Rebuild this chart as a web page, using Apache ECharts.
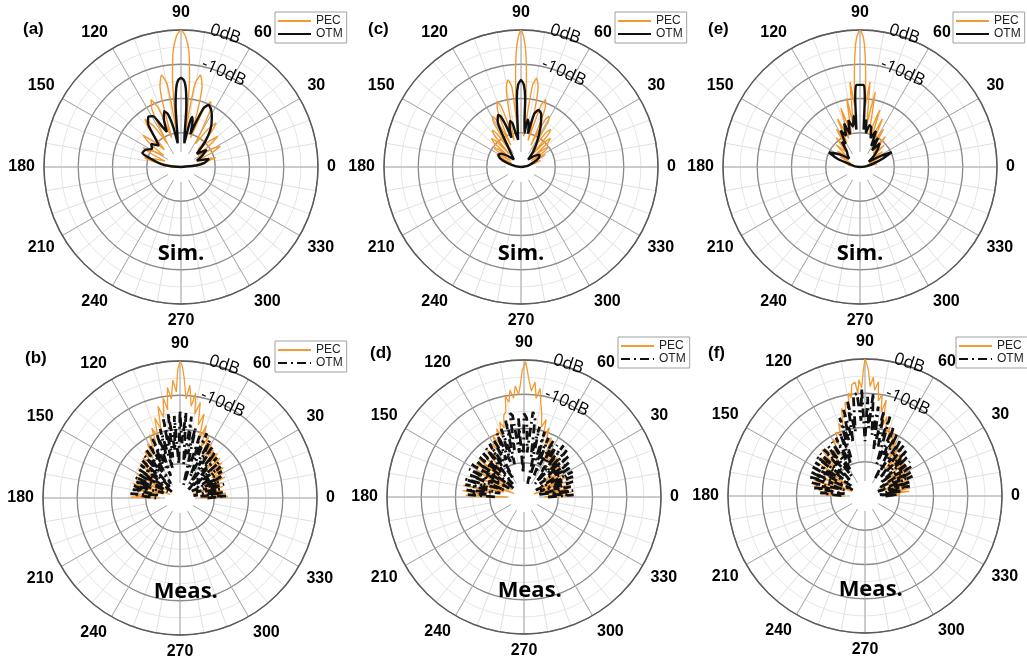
<!DOCTYPE html>
<html>
<head>
<meta charset="utf-8">
<script src="https://cdn.jsdelivr.net/npm/echarts@6/dist/echarts.min.js"></script>
<style>
  html, body { margin: 0; background: #fff; }
  #chart { width: 1027px; height: 668px; }
</style>
</head>
<body>
<div id="chart"></div>
<script>
// pattern values, [angle in degrees, level in dB]
const simA_PEC = [[0,-40],[8,-37],[12,-32.5],[15,-29.5],[18,-32.5],[21,-35],[25,-30],[28,-27],[31,-30],[34,-34],
  [37.5,-29],[40,-26],[42.5,-29],[45.5,-33],[49,-26.5],[51.5,-23.5],[54.5,-26.5],[58,-32],[62.5,-22],[65.5,-19],
  [68.5,-22],[72,-31],[75.5,-15.5],[78,-12.6],[80.5,-15.5],[83,-30],[84.5,-14],[86,-6.5],[88,-1.8],[90,0],
  [92,-1.8],[94,-6.5],[95.5,-14],[97,-30],[99.5,-15.5],[102,-12.6],[104.5,-15.5],[107.5,-31],[111,-21.5],[114,-18.5],
  [117,-21.5],[120,-32],[124,-25.5],[127,-22.5],[130,-25.5],[133.5,-33],[137.5,-28.5],[140,-25.5],[143,-28.5],[146.5,-34],
  [150.5,-30.5],[153,-27.5],[156,-30.5],[159.5,-35],[163,-32],[166,-29],[169,-32],[172,-37],[180,-40]]
const simA_OTM = [[0,-40],[5,-36],[10,-33],[16,-31.5],[22,-35],[28,-33],[34,-31],[40,-34],[46,-30],[52,-26],
  [58,-23],[62.5,-21],[66,-20.2],[69,-21.5],[72,-27],[74,-30],[76,-26],[77.5,-25],[79,-27],[82,-33],
  [83.5,-31],[85,-22],[86.5,-17],[88,-14.7],[90,-14],[92,-14.7],[93.5,-17],[95,-22],[96.5,-31],[98,-33],
  [101,-28],[104,-24],[107,-23],[109.5,-25],[112,-29],[115,-27],[119,-23],[123,-22.5],[127,-24],[131,-28],
  [136,-31],[142,-29],[148,-30],[154,-28.5],[160,-28],[165,-31],[171,-34],[176,-37],[180,-40]]

const simC_PEC = [[0,-40],[13,-38],[16,-35.5],[18,-34],[20,-35.5],[22.5,-37],[25,-33.5],[27,-32],[29,-33.5],[31.5,-36.5],
  [34,-31.5],[36,-30],[38,-31.5],[40,-36],[42,-29.5],[44,-28],[46,-29.5],[48,-35],[50,-27.5],[52,-26],
  [54,-27.5],[56.5,-34],[59,-24.5],[61,-23],[63,-24.5],[65.5,-33],[68,-21],[70,-19],[72,-21],[75,-32],
  [78,-16],[80,-13.7],[82,-16],[85,-31],[85.6,-24],[86.5,-14],[87.6,-6.5],[88.8,-2],[90,0],[91.2,-2],
  [92.4,-6.5],[93.5,-14],[94.4,-24],[95,-31],[96.5,-16.5],[98.5,-14.3],[100.5,-16.5],[104.5,-32],[108,-21.5],[110,-19.6],
  [112,-21.5],[115,-33],[117.5,-24.5],[119.5,-23],[121.5,-24.5],[124,-34],[126,-28],[128,-26.3],[130,-28],[132,-35],
  [134,-29.5],[136,-28],[138,-29.5],[140,-36],[142,-31.5],[144,-30],[146,-31.5],[148.5,-36.5],[151,-33.5],[153,-32],
  [155,-33.5],[157.5,-37],[160,-35.5],[162,-34],[164,-35.5],[167,-38],[180,-40]]
const simC_OTM = [[0,-40],[10,-38],[20,-36],[28,-34],[34,-33.5],[40,-35],[46,-37],[52,-34],[58,-31],[64,-27],
  [69,-23.5],[73,-22.6],[76,-24],[78,-30],[80,-27],[82,-26],[84,-30],[85.5,-27],[86.5,-20],[88,-16],
  [90,-14.6],[92,-16],[93.5,-20],[94.5,-27],[96,-32],[99,-30],[101,-27],[103.5,-26.2],[106,-28],[108,-31],
  [110,-27],[112,-24],[114,-23.4],[117,-25],[121,-31],[126,-35],[134,-37],[140,-35],[146,-33],[152,-32.5],
  [158,-33.5],[164,-36],[172,-38.5],[180,-40]]

const simE_PEC = [[0,-40],[6,-38],[10,-35],[14,-38],[18,-34],[22,-37],[26,-33],[30,-36.5],[34,-32],[38,-35.5],
  [42,-30.5],[46,-34.5],[50,-28.5],[54,-33.5],[58,-27],[61.5,-32],[65,-24.5],[68,-31],[71,-22.4],[74.5,-30],
  [78.5,-17.6],[81,-27],[83.3,-15],[85,-22],[86.5,-13],[87.6,-6],[88.6,-2],[90,0],[91.4,-2],[92.4,-6],
  [93.5,-13],[95,-22],[96.7,-15],[99,-27],[101,-19.5],[104.5,-30],[108,-22],[111.5,-31],[115,-24.5],[118.5,-32],
  [122,-27],[125.5,-33],[129,-29],[133,-34],[137,-30.5],[141,-35],[145,-32],[149,-36],[153,-33.5],[157,-37],
  [161,-35],[166,-38],[172,-36.5],[176,-39],[180,-40]]
const simE_OTM = [[0,-40],[8,-38],[14,-36],[20,-33],[25,-29.8],[28,-33],[32,-37],[38,-35],[44,-33],[50,-31],
  [54,-34],[58,-30],[62,-33],[66,-28.5],[70,-31],[74,-28],[77,-27.5],[80,-30],[82.5,-26],[84.5,-29],
  [85.5,-24],[86,-20],[87.4,-16],[92.6,-16],[94,-20],[94.5,-24],[95.5,-29],[97,-25],[100,-28],[104,-25.9],
  [107,-30],[110,-26.5],[114,-30],[118,-28],[122,-32],[126,-31],[130,-34],[136,-35],[142,-36],[148,-33],
  [155,-30],[160,-33],[165,-37],[172,-38.5],[180,-40]]

const measB_PEC = [[0,-34],[2,-26],[4,-30],[6,-26.5],[8,-33],[10,-27.5],[12.5,-31],[15,-27],[17.5,-36],[20,-27],
  [22.5,-30],[25,-25.5],[27.5,-32],[30,-25.5],[32.5,-29],[35,-24.5],[37.5,-31],[40,-24],[42.5,-28],[45,-23.5],
  [47.5,-29],[50,-23],[52.5,-27],[55,-23],[57.5,-27],[60,-21.5],[62.5,-26],[65,-20],[67.5,-24],[70,-17.5],
  [72,-22],[74,-14.5],[76,-18],[78,-11.5],[80,-15],[81.5,-9],[83,-13],[85,-7],[86.5,-11],[88,-5],
  [89,-1.5],[90,0],[91,-2.5],[92,-9],[93.5,-5.5],[95,-11],[96.5,-7.5],[98,-14],[99.5,-10.5],[101.5,-16],
  [103.5,-12.5],[105.5,-19],[107.5,-15.5],[110,-21],[112,-18],[114,-23],[116,-19.5],[118.5,-24],[121,-21.5],[124,-26],
  [127,-23],[130,-27],[133,-24],[136,-29],[139,-24.5],[142,-31],[145,-25],[148,-35],[151,-25.5],[154,-34],
  [157,-26],[160,-37],[163,-25.5],[166,-35],[169,-26.5],[172,-33],[175,-25.5],[177.5,-29],[179,-25.5],[180,-34]]
const measB_OTM = [[0,-32],[2.5,-26.5],[5,-34],[7.5,-27],[10,-36],[12.5,-28],[15,-33],[17.5,-26.5],[20,-35],[22.5,-27.5],
  [25,-32],[27.5,-26],[30,-36],[32.5,-25.5],[35,-31],[37.5,-25],[40,-34],[42.5,-24.5],[45,-37],[47.5,-24],
  [50,-30],[52.5,-23],[55,-35],[57.5,-22.5],[60,-29],[62.5,-21],[65,-33],[67.5,-19.5],[70,-28],[72.5,-21],
  [75,-36],[77.5,-19],[80,-27],[82,-16],[84,-30],[86,-15],[88,-24],[90,-14.5],[92,-30],[94,-16],
  [96,-26],[98,-15],[100,-28],[102,-16.5],[104,-31],[106,-19],[108,-27],[110,-20],[112.5,-33],[115,-21],
  [117.5,-29],[120,-22.5],[122.5,-35],[125,-23],[127.5,-30],[130,-24],[132.5,-36],[135,-24.5],[137.5,-31],[140,-25],
  [142.5,-37],[145,-25],[147.5,-32],[150,-26],[152.5,-36],[155,-25.5],[157.5,-31],[160,-26],[162.5,-35],[165,-25.5],
  [167.5,-30],[170,-26],[172.5,-34],[175,-25.5],[177.5,-30],[180,-33]]

const measD_PEC = [[0,-34],[2,-25.5],[4,-31],[6,-26],[8,-35],[10,-27],[12.5,-32],[15,-26.5],[17.5,-37],[20,-27],
  [22.5,-33],[25,-26],[27.5,-36],[30,-27],[32.5,-31],[35,-26.5],[37.5,-34],[40,-26],[42.5,-30],[45,-25.5],
  [47.5,-29],[50,-25],[52.5,-28],[55,-24.5],[57.5,-28],[60,-24],[62.5,-27],[65,-21],[67.5,-24],[70,-18.5],
  [72,-22],[74,-16.5],[76,-19],[78,-15],[80,-12],[81.5,-8],[83,-11],[84.5,-6.3],[86,-9],[87.5,-6],
  [88.5,-3],[89.3,-0.5],[90,0],[90.8,-3],[91.8,-7],[93,-10],[94.5,-7.5],[96,-11],[97.5,-8.5],[99,-12],
  [100.5,-10],[102,-14.5],[104,-15.5],[106,-19],[108,-17],[110,-21],[112,-18.5],[114.5,-23],[117,-20],[119.5,-24],
  [122,-21.5],[125,-26],[128,-22.5],[131,-30],[134,-23],[137,-31],[140,-23],[143,-34],[145,-23],[148,-36],
  [151,-24],[154,-33],[157,-23],[160,-37],[163,-22.5],[166,-34],[169,-22],[172,-31],[174,-22],[176.5,-28],
  [178.5,-23],[180,-35]]
const measD_OTM = [[0,-33],[2.5,-25.5],[5,-32],[7.5,-25.5],[10,-36],[12.5,-26],[15,-31],[17.5,-25],[20,-35],[22.5,-24.5],
  [25,-30],[27.5,-24],[30,-36],[32.5,-23.8],[35,-29],[37.5,-23.5],[40,-34],[42.5,-22.5],[45,-30],[47.5,-21.5],
  [50,-35],[52.5,-21],[55,-31],[57.5,-22],[60,-28],[62.5,-21.5],[65,-33],[67.5,-21.3],[70,-29],[72.5,-20],
  [75,-36],[77.5,-19],[80,-28],[82,-17],[84,-15],[86,-27],[88,-17],[90,-15.6],[92,-33],[94,-17],
  [96,-27],[98,-16],[99.5,-15.2],[101.5,-26],[103.5,-17],[106,-30],[108.5,-19],[111,-29],[113,-19.8],[115.5,-28],
  [118,-21],[120.5,-34],[123,-21.5],[125.5,-29],[128,-22],[130.5,-35],[133,-22.5],[135.5,-30],[138,-22.6],[140.5,-36],
  [143,-22.5],[145.5,-31],[148,-22],[150.5,-35],[153,-22],[155.5,-30],[158,-22.5],[160.5,-34],[163,-21.9],[165.5,-29],
  [168,-22.5],[170.5,-33],[173,-23],[175.5,-29],[177.5,-23.6],[180,-32]]

const measF_PEC = [[0,-33],[2,-29.8],[4,-33],[6,-27],[8,-31],[10,-26.7],[12.5,-33],[15,-27],[17.5,-36],[20,-26.5],
  [22.5,-31],[25,-26],[27.5,-35],[30,-25.5],[32.5,-30],[35,-25],[37.5,-33],[40,-25],[42.5,-29],[45,-24.6],
  [47.5,-28],[50,-24],[52.5,-30],[55,-23],[57.5,-27],[60,-21.5],[62.5,-25],[65,-20],[67.5,-23],[70,-18.5],
  [72,-21],[74.5,-16],[76,-19],[77.5,-11.3],[79,-15],[80.5,-10],[82,-12],[83.3,-6.4],[84.8,-9],[86,-5.2],
  [87.3,-8],[88.5,-3],[89.4,-1],[90,0],[90.7,-3],[91.8,-8.5],[93,-6],[94,-10],[95,-6.6],[96.8,-7.3],
  [98,-11],[99,-9.6],[100.5,-14],[102,-12],[103.5,-16],[105,-13.5],[106.5,-17],[108,-19],[110,-17.5],[112,-21],
  [114.5,-19.5],[117,-23],[119.5,-21],[122,-26],[124.6,-23.7],[127,-27],[130,-22.5],[133,-21.6],[136,-28],[139,-23],
  [142,-31],[145,-24],[148,-34],[151,-24],[154,-32],[157,-25],[160,-36],[163,-24.5],[166,-33],[169,-25],
  [172,-31],[174,-27],[177,-30],[178.5,-28.5],[180,-34]]
const measF_OTM = [[0,-34],[2.5,-30.5],[5,-36],[7.5,-29],[10,-34],[12.5,-26.6],[15,-33],[17.5,-26],[20,-36],[22.5,-25],
  [25,-31],[27.5,-24.5],[30,-35],[32.5,-24],[35,-30],[37.5,-23.5],[40,-34],[42.5,-23],[45,-29],[47.5,-22],
  [50,-33],[52.5,-21.5],[55,-28],[57.5,-20.5],[60,-34],[62.5,-19.5],[65,-27],[67.5,-18],[70,-30],[72.5,-15.7],
  [75,-25],[77.5,-14.5],[79.5,-26],[81.5,-13.6],[83.5,-22],[85.4,-9.9],[87,-20],[88.5,-11],[90,-24],[91.8,-8.6],
  [93,-18],[94.5,-10],[96.6,-10.3],[98.5,-21],[100.5,-12],[102.5,-24],[104,-14.1],[106,-23],[108,-16],[110,-28],
  [111.7,-20.3],[114,-30],[116.5,-21],[119,-31],[121.5,-21.5],[124,-33],[126.5,-22],[129,-29],[131.5,-21.8],[134,-34],
  [136.5,-22],[139,-30],[141,-21.8],[143.5,-35],[146,-22.5],[148.5,-30],[151,-22.5],[153.5,-36],[156,-22.5],[158.5,-30],
  [161,-22.5],[163.5,-34],[166,-24],[168.5,-30],[171,-25],[173.5,-34],[176,-26.9],[178,-31],[180,-34]]

const panelTags = ['(a)', '(b)', '(c)', '(d)', '(e)', '(f)']
const panelKinds = ['Sim.', 'Meas.', 'Sim.', 'Meas.', 'Sim.', 'Meas.']
const pecCurves = [simA_PEC, measB_PEC, simC_PEC, measD_PEC, simE_PEC, measF_PEC]
const otmCurves = [simA_OTM, measB_OTM, simC_OTM, measD_OTM, simE_OTM, measF_OTM]
const ringLabels = [['0dB', 0, 72], ['-10dB', -10, 66]] // text, dB, angle

// page layout (pixels)
const layout = [
  { center: [181, 167], legend: [275, 12], tag: [23, 21] },
  { center: [180, 498], legend: [275, 341], tag: [25, 350] },
  { center: [521, 167], legend: [615, 12], tag: [368, 21] },
  { center: [524, 497], legend: [618, 337], tag: [370, 345] },
  { center: [860, 167], legend: [953, 12], tag: [708, 21] },
  { center: [865, 496], legend: [956, 337], tag: [708, 345] },
]
const R = 137
const orange = '#f39a32'
const dashDot = [9, 4, 2, 4]

const chart = echarts.init(document.getElementById('chart'))
const polar = []
const angleAxis = []
const radiusAxis = []
const series = []
const legend = []
const title = []

layout.forEach((p, i) => {
  const meas = panelKinds[i] === 'Meas.'
  const suffix = meas ? ' ' : ''

  // light backdrop grid: 10 degree spokes and 5 dB rings outside -30 dB
  const bg = polar.length
  polar.push({ center: p.center, radius: [R * 0.25, R] })
  angleAxis.push({
    polarIndex: bg, type: 'value', min: 0, max: 360, interval: 10,
    startAngle: 0, clockwise: false, z: 0,
    axisLine: { show: false }, axisTick: { show: false }, axisLabel: { show: false },
    splitLine: { lineStyle: { color: '#e0e0e0', width: 1 } },
  })
  radiusAxis.push({
    polarIndex: bg, type: 'value', min: -30, max: 0, interval: 5, z: 0,
    axisLine: { show: false }, axisTick: { show: false }, axisLabel: { show: false },
    splitLine: { lineStyle: { color: '#e6e6e6', width: 1 } },
  })

  // main grid with labels
  const m = polar.length
  polar.push({ center: p.center, radius: [0, R] })
  angleAxis.push({
    polarIndex: m, type: 'value', min: 0, max: 360, interval: 30,
    startAngle: 0, clockwise: false, z: 1,
    axisLine: { lineStyle: { color: '#5a5a5a', width: 1.4 } },
    axisTick: { show: false },
    axisLabel: {
      margin: 9, color: '#000', fontSize: 16, fontWeight: 'bold',
      fontFamily: 'Liberation Sans',
    },
    splitLine: { lineStyle: { color: '#a8a8a8', width: 1 } },
  })
  radiusAxis.push({
    polarIndex: m, type: 'value', min: -40, max: 0, interval: 10, z: 1,
    axisLine: { show: false }, axisTick: { show: false }, axisLabel: { show: false },
    splitLine: { lineStyle: { color: '#8a8a8a', width: 1.3 } },
  })

  // blank disc at the pole
  series.push({
    type: 'scatter', coordinateSystem: 'polar', polarIndex: m, silent: true, z: 2,
    symbolSize: 30, itemStyle: { color: '#fff', opacity: 1 }, data: [[-40, 0]],
  })

  series.push({
    name: 'PEC' + suffix, type: 'line', coordinateSystem: 'polar', polarIndex: m, z: 3,
    symbol: 'none', smooth: meas ? false : 0.2,
    lineStyle: { color: orange, width: meas ? 1.3 : 1.4 },
    itemStyle: { color: orange },
    data: pecCurves[i].map((d) => [d[1], d[0]]),
  })
  series.push({
    name: 'OTM' + suffix, type: 'line', coordinateSystem: 'polar', polarIndex: m, z: 4,
    symbol: 'none', smooth: meas ? false : 0.2,
    lineStyle: { color: '#111', width: meas ? 2.8 : 2.4, type: meas ? dashDot : 'solid' },
    itemStyle: { color: '#111' },
    data: otmCurves[i].map((d) => [d[1], d[0]]),
  })

  // ring labels and panel caption
  series.push({
    type: 'scatter', coordinateSystem: 'polar', polarIndex: m, silent: true, z: 5,
    symbolSize: 0, itemStyle: { opacity: 1, color: '#000' },
    label: {
      show: true, position: 'inside', formatter: '{b}', color: '#000',
      fontSize: 17, fontFamily: 'Open Sans',
    },
    data: ringLabels.map((r) => ({
      name: r[0], value: [r[1], r[2]],
      label: { rotate: r[2] - 90, offset: r[1] === 0 ? [1, -3] : [0.5, -1] },
    })).concat([{
      name: panelKinds[i], value: meas ? [-12.5, 273.5] : [-14.6, 270],
      label: { fontSize: 22, fontWeight: 'bold', color: '#000' },
    }]),
  })

  legend.push({
    left: p.legend[0], top: p.legend[1], orient: 'vertical',
    data: ['PEC' + suffix, 'OTM' + suffix],
    formatter: (n) => n.trim(),
    selectedMode: false,
    backgroundColor: '#fff', borderColor: '#a0a0a0', borderWidth: 1,
    padding: [3, 4, 3, 2], itemGap: 1, itemWidth: 33, itemHeight: 12,
    itemStyle: { opacity: 0 },
    textStyle: { fontSize: 12, color: '#222', fontFamily: 'Liberation Sans' },
  })

  title.push({
    text: panelTags[i], left: p.tag[0], top: p.tag[1], padding: 0,
    textStyle: { fontSize: 17, fontWeight: 'bold', color: '#000', fontFamily: 'Liberation Sans' },
  })
})

chart.setOption({
  animation: false,
  backgroundColor: '#fff',
  title: title,
  legend: legend,
  polar: polar,
  angleAxis: angleAxis,
  radiusAxis: radiusAxis,
  series: series,
})
</script>
</body>
</html>
